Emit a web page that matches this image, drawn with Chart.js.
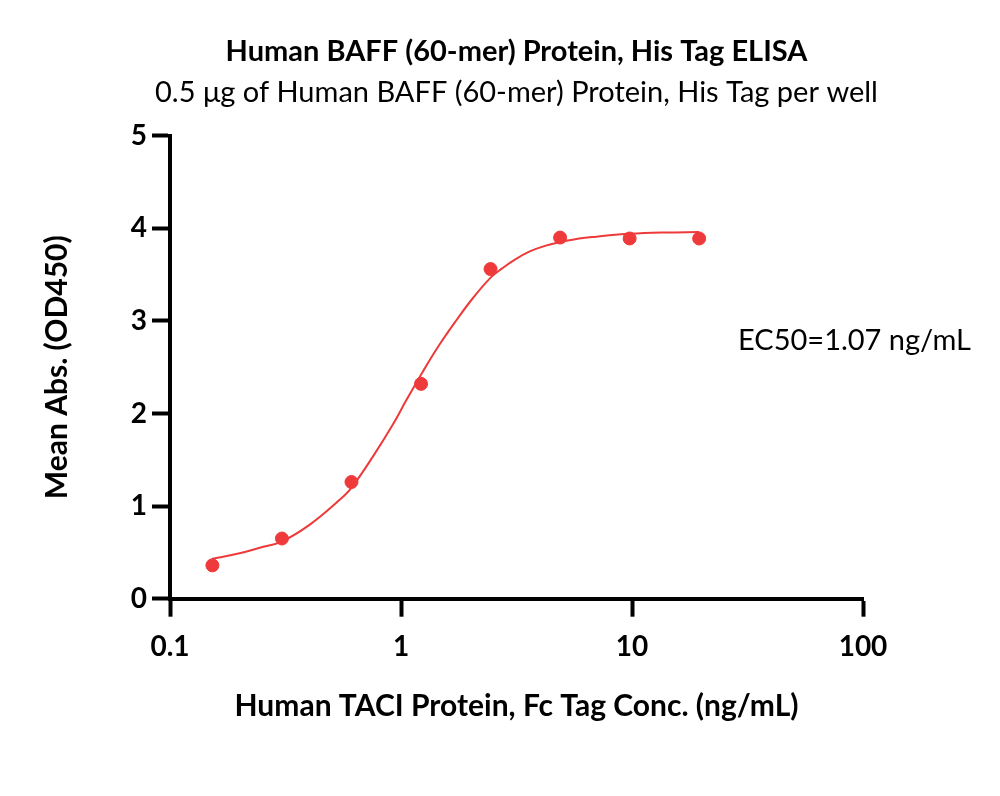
<!DOCTYPE html>
<html>
<head>
<meta charset="utf-8">
<script src="https://cdn.jsdelivr.net/npm/chart.js@4.4.1/dist/chart.umd.min.js"></script>
<style>
  html, body { margin: 0; padding: 0; background: #fff; }
  #wrap { width: 1000px; height: 796px; }
</style>
</head>
<body>
<div id="wrap"><canvas id="chart"></canvas></div>
<script>
// measured points (ng/mL vs OD450)
const concentrations = [0.1526, 0.3052, 0.6104, 1.221, 2.441, 4.883, 9.766, 19.53];
const meanAbs = [0.36, 0.65, 1.26, 2.32, 3.56, 3.90, 3.89, 3.89];

// fitted curve
const fitConc = [0.1515, 0.2, 0.245, 0.306, 0.403, 0.544, 0.611, 0.758, 0.922, 1.058, 1.248, 1.473, 1.74, 2.053, 2.45, 2.75, 3.1, 3.61, 4.2, 4.87, 5.9, 7.02, 9.78, 14.0, 19.5];
const fitAbs = [0.43, 0.49, 0.55, 0.62, 0.80, 1.07, 1.2, 1.54, 1.88, 2.15, 2.46, 2.75, 3.01, 3.25, 3.47, 3.57, 3.66, 3.75, 3.81, 3.85, 3.89, 3.91, 3.94, 3.955, 3.96];

const xTicks = [0.1, 1, 10, 100];
const yTicks = [0, 1, 2, 3, 4, 5];

const FONT = "Lato, 'Open Sans', sans-serif";
const red = "rgb(238, 58, 58)";

// subtitle is wider than the plot area, and the EC50 note sits right of it
const extraText = {
  id: "extraText",
  afterDraw(chart) {
    const ctx = chart.ctx;
    const area = chart.chartArea;
    ctx.save();
    ctx.font = "29px " + FONT;
    ctx.fillStyle = "#000";
    ctx.textBaseline = "middle";
    ctx.textAlign = "center";
    ctx.fillText("0.5 μg of Human BAFF (60-mer) Protein, His Tag per well", (area.left + area.right) / 2, 93);
    ctx.textAlign = "left";
    ctx.fillText("EC50=1.07 ng/mL", 738, 341);
    ctx.restore();
  }
};

new Chart(document.getElementById("chart"), {
  type: "scatter",
  data: {
    datasets: [
      {
        label: "Mean Abs.",
        data: concentrations.map((c, i) => ({ x: c, y: meanAbs[i] })),
        backgroundColor: red,
        borderColor: red,
        pointRadius: 6.5,
        pointHoverRadius: 6.5,
        order: 1
      },
      {
        type: "line",
        label: "Fit",
        data: fitConc.map((c, i) => ({ x: c, y: fitAbs[i] })),
        borderColor: red,
        borderWidth: 2,
        pointRadius: 0,
        fill: false,
        tension: 0.4,
        order: 2
      }
    ]
  },
  options: {
    responsive: true,
    maintainAspectRatio: false,
    animation: false,
    layout: { padding: { top: 0, right: 137, bottom: 0, left: 0 } },
    plugins: {
      legend: { display: false },
      tooltip: { enabled: false },
      title: {
        display: true,
        fullSize: false,
        text: "Human BAFF (60-mer) Protein, His Tag ELISA",
        color: "#000",
        font: { family: FONT, size: 29, weight: "bold", lineHeight: 1.2 },
        padding: { top: 34.6, bottom: 66.3 }
      }
    },
    scales: {
      x: {
        type: "logarithmic",
        min: 0.1,
        max: 100,
        afterBuildTicks: (scale) => { scale.ticks = xTicks.map(v => ({ value: v })); },
        afterFit: (scale) => { scale.height = 197.3; },
        ticks: {
          color: "#000",
          font: { family: FONT, size: 28, weight: "bold", lineHeight: 1.2 },
          padding: 13.5,
          maxRotation: 0,
          callback: (v) => String(v)
        },
        grid: { display: true, drawOnChartArea: false, tickLength: 18, tickWidth: 4, color: "#000" },
        border: { display: true, width: 4, color: "#000" },
        title: {
          display: true,
          text: "Human TACI Protein, Fc Tag Conc. (ng/mL)",
          color: "#000",
          font: { family: FONT, size: 30, weight: "bold", lineHeight: 1.2 },
          padding: { top: 0, bottom: 72 }
        }
      },
      y: {
        type: "linear",
        min: 0,
        max: 5,
        afterBuildTicks: (scale) => { scale.ticks = yTicks.map(v => ({ value: v })); },
        afterFit: (scale) => { scale.width = 170; },
        ticks: {
          color: "#000",
          font: { family: FONT, size: 28, weight: "bold", lineHeight: 1.2 },
          padding: 5
        },
        grid: { display: true, drawOnChartArea: false, tickLength: 18, tickWidth: 4, color: "#000" },
        border: { display: true, width: 4, color: "#000" },
        title: {
          display: true,
          text: "Mean Abs. (OD450)",
          color: "#000",
          font: { family: FONT, size: 30, weight: "bold", lineHeight: 1.2 },
          padding: { top: 39, bottom: 0 }
        }
      }
    }
  },
  plugins: [extraText]
});
</script>
</body>
</html>
